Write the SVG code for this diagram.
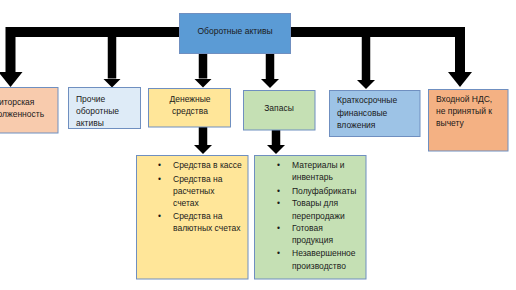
<svg xmlns="http://www.w3.org/2000/svg" width="516" height="290" viewBox="0 0 516 290">
<defs>
<style>
text{font-family:"Liberation Sans",Arial,sans-serif;font-size:8.5px;fill:#1a1a1a}
.box{stroke:#6f8fc0;stroke-width:1}
.c{text-anchor:middle}
.conn path{fill:none;stroke:#000;stroke-linejoin:miter}
.big{stroke-width:10}
.sm{stroke-width:8.5}
</style>
<marker id="hb" viewBox="0 0 15 24" refX="0" refY="12" markerWidth="15" markerHeight="24" markerUnits="userSpaceOnUse" orient="auto"><path d="M0,0 L15,12 L0,24 Z" fill="#000"/></marker>
<marker id="hs" viewBox="0 0 9 18" refX="0" refY="9" markerWidth="9" markerHeight="18" markerUnits="userSpaceOnUse" orient="auto"><path d="M0,0 L9,9 L0,18 Z" fill="#000"/></marker>
</defs>
<rect width="516" height="290" fill="#fff"/>
<g class="conn">
<path class="big" d="M180,32 H10.5 V72" marker-end="url(#hb)"/>
<path class="big" d="M290,32 H460 V72" marker-end="url(#hb)"/>
<path class="sm" d="M112,37 V78.5" marker-end="url(#hs)"/>
<path class="sm" d="M366,37 V80" marker-end="url(#hs)"/>
<path class="sm" d="M203,54 V78.5" marker-end="url(#hs)"/>
<path class="sm" d="M270,54 V79" marker-end="url(#hs)"/>
<path class="sm" d="M203,127 V145" marker-end="url(#hs)"/>
<path class="sm" d="M276,130 V145" marker-end="url(#hs)"/>
</g>
<g id="root">
<rect class="box" x="179.5" y="13.5" width="111" height="40" fill="#5b9bd5" stroke="#41719c"/>
<text class="c" x="235" y="34">Оборотные активы</text>
</g>
<g id="debit">
<rect class="box" x="-38" y="87.5" width="96" height="45.5" fill="#f8cbad"/>
<text class="c" x="9" y="105">Дебиторская</text>
<text class="c" x="14" y="117">задолженность</text>
</g>
<g id="prochie">
<rect class="box" x="68.5" y="87.5" width="72" height="41" fill="#deebf7"/>
<text x="76" y="102">Прочие</text>
<text x="76" y="114">оборотные</text>
<text x="76" y="126">активы</text>
</g>
<g id="den">
<rect class="box" x="148.5" y="88.5" width="82" height="38.5" fill="#ffe699"/>
<text class="c" x="190" y="102">Денежные</text>
<text class="c" x="190" y="114">средства</text>
</g>
<g id="zap">
<rect class="box" x="243.5" y="90.5" width="71.5" height="39.5" fill="#c5e0b4"/>
<text class="c" x="279" y="111">Запасы</text>
</g>
<g id="krat">
<rect class="box" x="329.5" y="90.5" width="90.5" height="46" fill="#9dc3e6"/>
<text x="337" y="103">Краткосрочные</text>
<text x="337" y="116">финансовые</text>
<text x="337" y="128">вложения</text>
</g>
<g id="nds">
<rect class="box" x="428.5" y="89.5" width="79.5" height="61.5" fill="#f4b183"/>
<text x="436" y="102">Входной НДС,</text>
<text x="436" y="114">не принятый к</text>
<text x="436" y="126">вычету</text>
</g>
<g id="den-list">
<rect class="box" x="136.5" y="155.5" width="111.5" height="123.5" fill="#ffe699"/>
<text x="158" y="168">•</text><text x="173" y="168">Средства в кассе</text>
<text x="158" y="182">•</text><text x="173" y="182">Средства на</text>
<text x="173" y="194">расчетных</text>
<text x="173" y="206">счетах</text>
<text x="158" y="219">•</text><text x="173" y="219">Средства на</text>
<text x="173" y="231">валютных счетах</text>
</g>
<g id="zap-list">
<rect class="box" x="254.5" y="155.5" width="111.5" height="123.5" fill="#c5e0b4"/>
<text x="277" y="168">•</text><text x="292" y="168">Материалы и</text>
<text x="292" y="180">инвентарь</text>
<text x="277" y="194">•</text><text x="292" y="194">Полуфабрикаты</text>
<text x="277" y="206">•</text><text x="292" y="206">Товары для</text>
<text x="292" y="219">перепродажи</text>
<text x="277" y="231">•</text><text x="292" y="231">Готовая</text>
<text x="292" y="243">продукция</text>
<text x="277" y="256">•</text><text x="292" y="256">Незавершенное</text>
<text x="292" y="269">производство</text>
</g>
</svg>
